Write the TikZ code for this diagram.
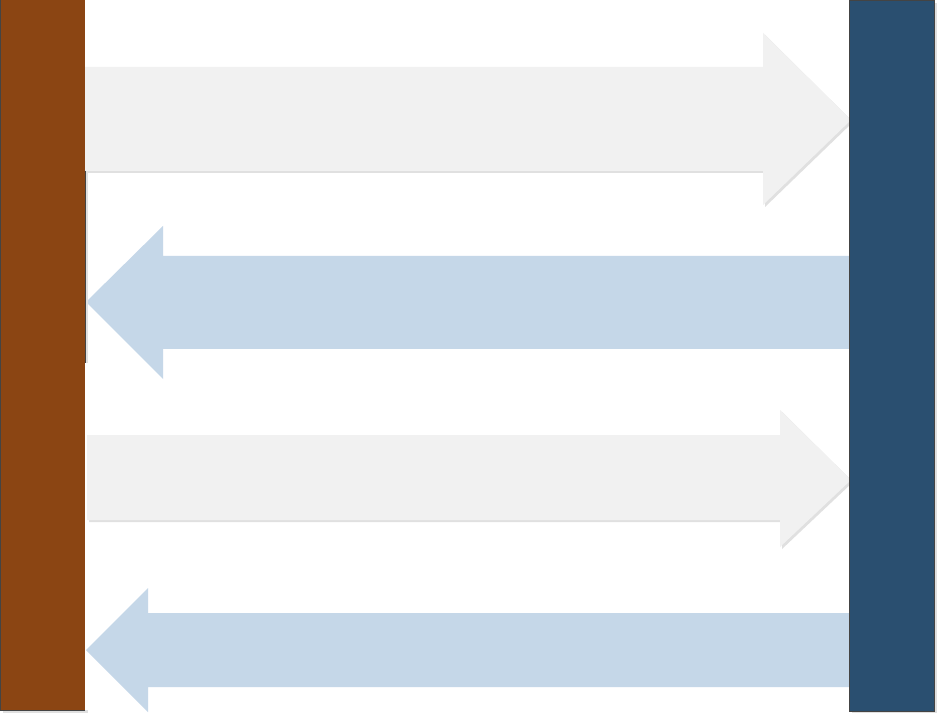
\documentclass[tikz,border=0pt]{standalone}
\usepackage{tikz}
\definecolor{barbrown}{HTML}{8B4513}
\definecolor{barblue}{HTML}{2A4F70}
\definecolor{arrgray}{HTML}{F1F1F1}
\definecolor{arrblue}{HTML}{C5D7E8}
\definecolor{shadowgray}{HTML}{E0E0E0}
\definecolor{edgegray}{HTML}{444444}
\tikzset{
  barbox/.style={draw=edgegray, line width=1pt},
  grayarrow/.style={fill=arrgray, draw=none},
  bluearrow/.style={fill=arrblue, draw=none},
  shade/.style={fill=shadowgray, draw=none},
}
\begin{document}
\begin{tikzpicture}[x=1pt,y=-1pt]
\useasboundingbox (0,0) rectangle (938,714);
\fill[white] (0,0) rectangle (938,714);
% arrow 1 (gray, right) with shadow
\fill[shade] (87,69) -- (765,69) -- (765,35) -- (853,122) -- (765,207) -- (765,173) -- (87,173) -- cycle;
\fill[grayarrow] (85,67) -- (763,67) -- (763,33) -- (851,120) -- (763,205) -- (763,171) -- (85,171) -- cycle;
% arrow 2 (blue, left)
\fill[bluearrow] (849,256) -- (163,256) -- (163,226) -- (86,302) -- (163,379) -- (163,349) -- (849,349) -- cycle;
% arrow 3 (gray, right) with shadow
\fill[shade] (89,437) -- (782,437) -- (782,412) -- (853,482) -- (782,549) -- (782,522) -- (89,522) -- cycle;
\fill[grayarrow] (87,435) -- (780,435) -- (780,410) -- (851,480) -- (780,547) -- (780,520) -- (87,520) -- cycle;
% arrow 4 (blue, left)
\fill[bluearrow] (849,613) -- (148,613) -- (148,588) -- (86,650) -- (148,712) -- (148,687) -- (849,687) -- cycle;
% bars
\fill[shadowgray] (852,3) rectangle (937,713);
\fill[shadowgray] (3,710) rectangle (88,713);
\node[fill=barbrown, minimum width=85pt, minimum height=710pt, inner sep=0pt, anchor=north west] (leftbar) at (0,0) {};
\draw[edgegray, line width=1pt] (leftbar.north east) -- (leftbar.north west) -- (leftbar.south west) -- (leftbar.south east);
% thin frame line at left bar edge
\fill[shadowgray] (86,171) rectangle (88,363);
\draw[edgegray, line width=0.8pt] (85.4,171) -- (85.4,363);
\node[barbox, fill=barblue, minimum width=85pt, minimum height=710pt, inner sep=0pt, anchor=north west] (rightbar) at (849,0.5) {};
\end{tikzpicture}
\end{document}
